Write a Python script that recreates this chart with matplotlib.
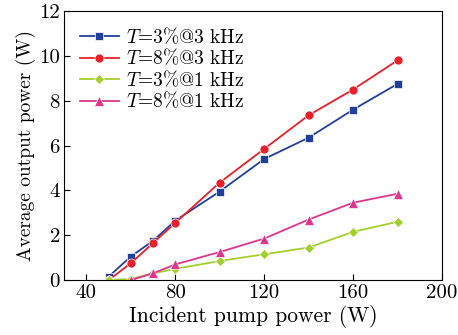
import numpy as np
import matplotlib.pyplot as plt

plt.rcParams['font.family'] = 'serif'
plt.rcParams['font.serif'] = ['cmr10', 'DejaVu Serif']
plt.rcParams['mathtext.fontset'] = 'cm'
plt.rcParams['axes.unicode_minus'] = False

# Incident pump power (W)
pump = [50, 60, 70, 80, 100, 120, 140, 160, 180]

# Average output power (W)
t3_3k = [0.15, 1.05, 1.75, 2.65, 3.95, 5.4, 6.35, 7.6, 8.75]
t8_3k = [0.0, 0.75, 1.65, 2.55, 4.35, 5.85, 7.35, 8.5, 9.8]
t3_1k = [0.0, 0.05, 0.3, 0.5, 0.85, 1.15, 1.45, 2.15, 2.6]
pump_t8_1k = [60, 70, 80, 100, 120, 140, 160, 180]
t8_1k = [0.0, 0.3, 0.7, 1.25, 1.85, 2.7, 3.45, 3.85]

fig = plt.figure(figsize=(4.58, 3.35), dpi=100)
ax = fig.add_axes([0.14, 0.164, 0.825, 0.803])

ax.plot(pump, t3_3k, '-s', color='#1f3f9a', ms=5.5, lw=1.3, mec='white', mew=0.5,
        label='$T$=3%@3 kHz')
ax.plot(pump, t8_3k, '-o', color='#e8202a', ms=6.5, lw=1.3, mec='white', mew=0.5,
        label='$T$=8%@3 kHz')
ax.plot(pump, t3_1k, '-D', color='#a3cf2c', ms=5.5, lw=1.3, mec='white', mew=0.5,
        label='$T$=3%@1 kHz')
ax.plot(pump_t8_1k, t8_1k, '-^', color='#e0358c', ms=6.5, lw=1.3, mec='white', mew=0.5,
        label='$T$=8%@1 kHz')

ax.set_xlim(30, 200)
ax.set_ylim(0, 12)
ax.set_xticks([40, 80, 120, 160, 200])
ax.set_yticks([0, 2, 4, 6, 8, 10, 12])
ax.tick_params(direction='in', labelsize=15, length=4, pad=3)
ax.set_xlabel('Incident pump power (W)', fontsize=15.5, labelpad=2)
ax.set_ylabel('Average output power (W)', fontsize=14, labelpad=2)

ax.legend(loc='upper left', frameon=False, fontsize=14, handlelength=2.0,
          handletextpad=0.4, labelspacing=0.05, borderaxespad=0.4)

fig.savefig('out.png', dpi=100)
